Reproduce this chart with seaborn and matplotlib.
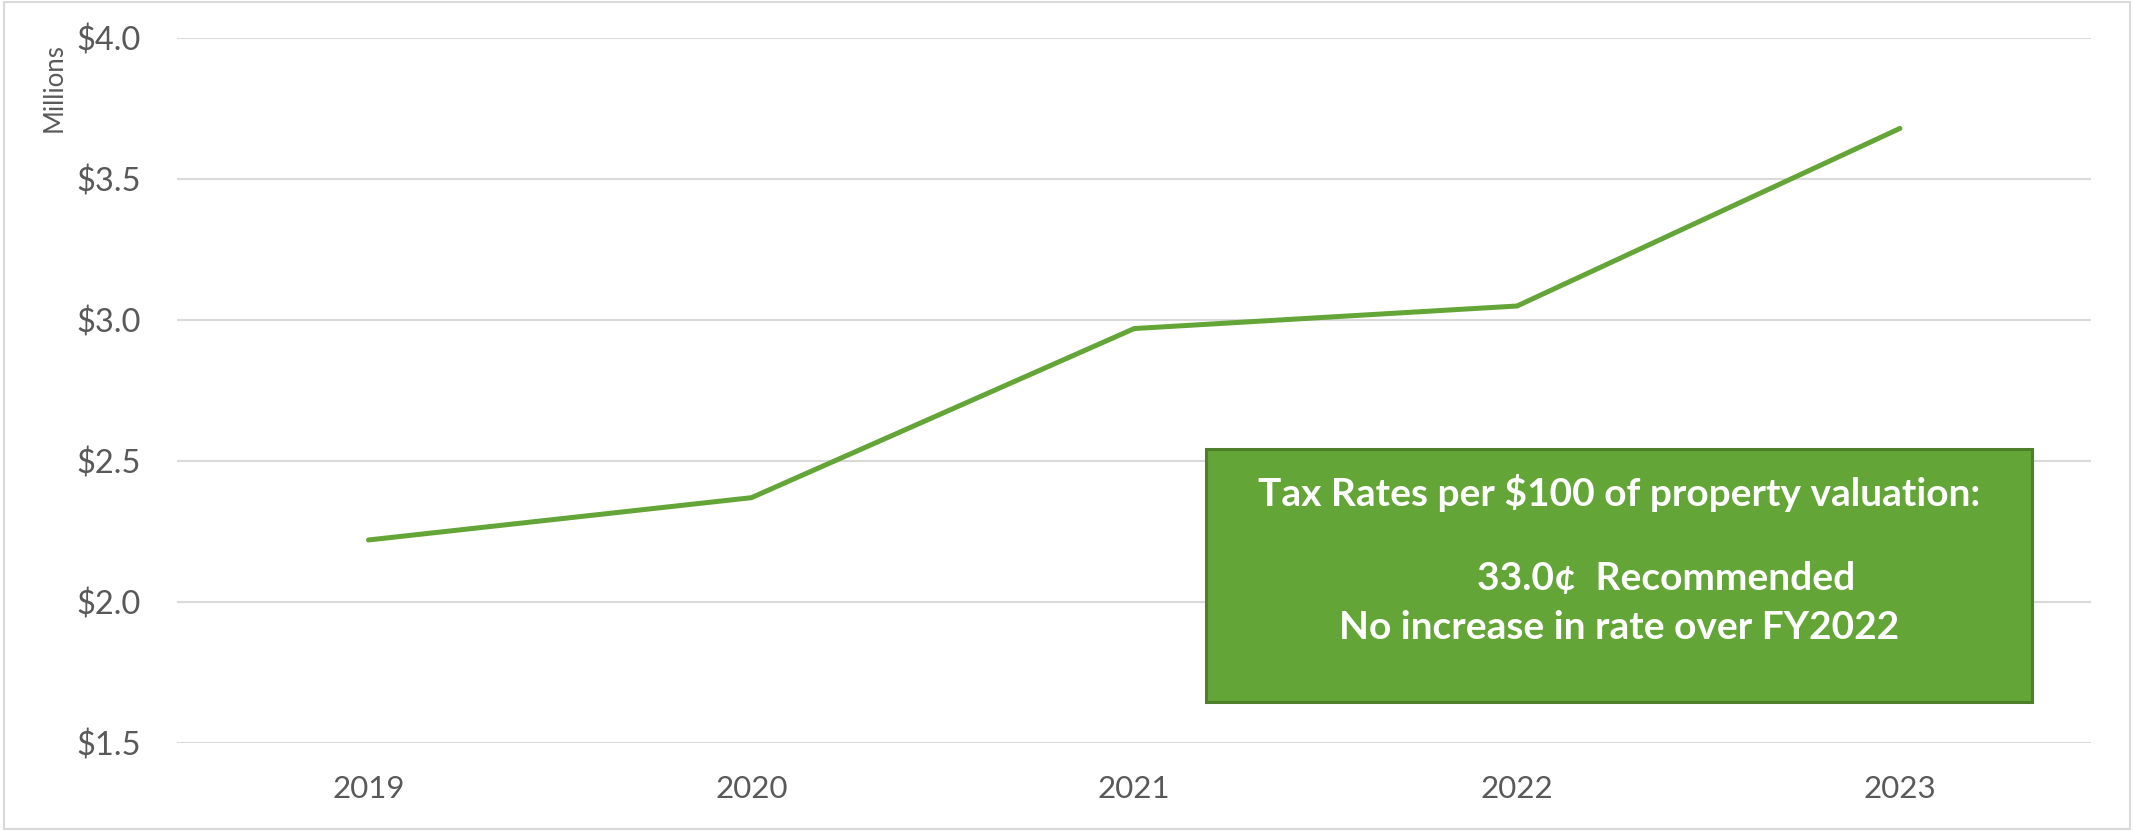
import matplotlib
matplotlib.use("Agg")
import matplotlib.pyplot as plt
from matplotlib.patches import Rectangle
import seaborn as sns
import pandas as pd

# Property tax revenue by fiscal year (millions of dollars)
years = ["2019", "2020", "2021", "2022", "2023"]
revenue = [2.22, 2.37, 2.97, 3.05, 3.68]
y_ticks = [1.5, 2.0, 2.5, 3.0, 3.5, 4.0]
note_lines = [
    "Tax Rates per $100 of property valuation:",
    "33.0¢  Recommended",
    "No increase in rate over FY2022",
]

sns.set_theme(style="white")
plt.rcParams["font.family"] = ["Lato", "DejaVu Sans"]

GREEN = "#64A537"
GREY_TXT = "#595959"
GRID = "#D9D9D9"

fig = plt.figure(figsize=(21.34, 8.31), dpi=100)
ax = fig.add_axes([0.083, 0.106, 0.897, 0.848])

df = pd.DataFrame({"year": years, "revenue": revenue})
sns.lineplot(data=df, x="year", y="revenue", ax=ax, color=GREEN,
             linewidth=3.6, solid_capstyle="round", solid_joinstyle="round")

ax.set_xlim(-0.5, len(years) - 0.5)
ax.set_ylim(y_ticks[0], y_ticks[-1])
ax.set_yticks(y_ticks)
ax.set_yticklabels([f"${v:.1f}" for v in y_ticks])
ax.yaxis.grid(True, color=GRID, linewidth=1.5)
ax.set_axisbelow(True)
for s in ax.spines.values():
    s.set_visible(False)
ax.tick_params(axis="both", length=0, labelcolor=GREY_TXT)
ax.tick_params(axis="y", pad=26, labelsize=23.5)
ax.tick_params(axis="x", pad=23, labelsize=22.5)
ax.set_xlabel("")
ax.set_ylabel("")

fig.text(0.0255, 0.948, "Millions", rotation=90, ha="center", va="top",
         fontsize=18.5, color=GREY_TXT)

# Annotation box with the tax-rate note
box = Rectangle((0.565, 0.155), 0.387, 0.305, transform=fig.transFigure,
                facecolor=GREEN, edgecolor="#4E7F2B", linewidth=2.2, zorder=5)
fig.patches.append(box)
fig.text(0.7585, 0.407, note_lines[0], ha="center", va="center",
         fontsize=28, fontweight="bold", color="white", zorder=6)
fig.text(0.692, 0.304, note_lines[1], ha="left", va="center",
         fontsize=28, fontweight="bold", color="white", zorder=6)
fig.text(0.7585, 0.245, note_lines[2], ha="center", va="center",
         fontsize=28, fontweight="bold", color="white", zorder=6)

# Thin frame around the whole chart area
fig.patches.append(Rectangle((0.002, 0.003), 0.996, 0.994, transform=fig.transFigure,
                             facecolor="none", edgecolor="#D9D9D9", linewidth=1.5))

fig.savefig("out.png", dpi=100, facecolor="white")
